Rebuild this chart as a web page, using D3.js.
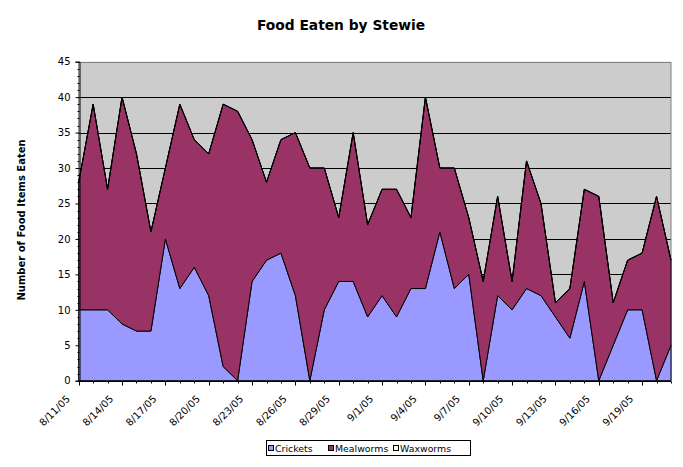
<!DOCTYPE html>
<html>
<head>
<meta charset="utf-8">
<script src="https://cdn.jsdelivr.net/npm/d3@7"></script>
<style>
  html, body { margin: 0; padding: 0; background: #ffffff; }
  svg { display: block; }
  text { font-family: "DejaVu Sans", Verdana, sans-serif; fill: #000; }
</style>
</head>
<body>
<svg id="chart" width="683" height="467"></svg>
<script>
// ---------- data ----------
const dates = ["8/11/05","8/12/05","8/13/05","8/14/05","8/15/05","8/16/05","8/17/05","8/18/05","8/19/05","8/20/05",
  "8/21/05","8/22/05","8/23/05","8/24/05","8/25/05","8/26/05","8/27/05","8/28/05","8/29/05","8/30/05",
  "8/31/05","9/1/05","9/2/05","9/3/05","9/4/05","9/5/05","9/6/05","9/7/05","9/8/05","9/9/05",
  "9/10/05","9/11/05","9/12/05","9/13/05","9/14/05","9/15/05","9/16/05","9/17/05","9/18/05","9/19/05",
  "9/20/05","9/21/05"];
const crickets  = [10,10,10,8,7,7,20,13,16,12,2,0,14,17,18,12,0,10,14,14,9,12,9,13,13,21,13,15,0,12,10,13,12,9,6,14,0,5,10,10,0,5];
const mealworms = [18,29,17,32,25,14,10,26,18,20,37,38,20,11,16,23,30,20,9,21,13,15,18,10,27,9,17,8,14,14,4,18,13,2,7,13,26,6,7,8,26,12];
const waxworms  = [0,0,0,0,0,0,0,0,0,0,0,0,0,0,0,0,0,0,0,0,0,0,0,0,0,0,0,0,0,0,0,0,0,0,0,0,0,0,0,0,0,0];
const seriesNames = ["Crickets","Mealworms","Waxworms"];
const seriesColors = ["#9999ff","#993366","#ffffcc"];
const yTicks = [0,5,10,15,20,25,30,35,40,45];
const title = "Food Eaten by Stewie";
const yTitle = "Number of Food Items Eaten";

// ---------- layout ----------
const svg = d3.select("#chart");
const L = 78.7, R = 671, T = 61.7, B = 380.7;

const table = dates.map((d, i) => ({ date: d, Crickets: crickets[i], Mealworms: mealworms[i], Waxworms: waxworms[i] }));
const stacked = d3.stack().keys(seriesNames)(table);

const x = d3.scalePoint().domain(dates).range([L, R]);
const y = d3.scaleLinear().domain([0, 45]).range([B, T]);

// plot background
svg.append("rect").attr("x", L).attr("y", T).attr("width", R - L).attr("height", B - T)
  .attr("fill", "#cccccc");

// gridlines
svg.append("g").selectAll("line").data(yTicks.filter(v => v > 0 && v < 45)).join("line")
  .attr("x1", L).attr("x2", R)
  .attr("y1", d => Math.round(y(d)) + 0.5).attr("y2", d => Math.round(y(d)) + 0.5)
  .attr("stroke", "#000").attr("stroke-width", 1);

// plot border (gray)
svg.append("rect").attr("x", L).attr("y", Math.round(T) + 0.5).attr("width", R - L).attr("height", B - T)
  .attr("fill", "none").attr("stroke", "#808080").attr("stroke-width", 1);

// areas
const area = d3.area()
  .x((d, i) => x(dates[i]))
  .y0(d => y(d[0]))
  .y1(d => y(d[1]));

svg.append("g").selectAll("path").data(stacked).join("path")
  .attr("d", area)
  .attr("fill", (d, i) => seriesColors[i])
  .attr("stroke", "#000").attr("stroke-width", 1).attr("stroke-linejoin", "miter");

// y axis
const yAxis = d3.axisLeft(y).tickValues(yTicks).tickSize(4).tickPadding(5).tickFormat(d3.format("d"));
const gy = svg.append("g").attr("transform", `translate(${Math.round(L) + 0.5},0)`).call(yAxis);
gy.select(".domain").attr("stroke", "#000");
gy.selectAll(".tick line").attr("stroke", "#000");
gy.selectAll(".tick text").attr("font-size", "10px").attr("font-family", "DejaVu Sans, Verdana, sans-serif");
// minor y ticks
const yMinor = d3.range(0, 46).filter(v => v % 5 !== 0);
svg.append("g").selectAll("line").data(yMinor).join("line")
  .attr("x1", Math.round(L) + 0.5 - 2).attr("x2", Math.round(L) + 0.5)
  .attr("y1", d => Math.round(y(d)) + 0.5).attr("y2", d => Math.round(y(d)) + 0.5)
  .attr("stroke", "#000");

// x axis
const labeled = dates.filter((d, i) => i % 3 === 0);
const gx = svg.append("g").attr("transform", `translate(0,${Math.round(B) + 0.5})`);
gx.append("line").attr("x1", L).attr("x2", R).attr("stroke", "#000");
gx.selectAll("line.tk").data(dates).join("line").attr("class", "tk")
  .attr("x1", d => Math.round(x(d)) + 0.5).attr("x2", d => Math.round(x(d)) + 0.5)
  .attr("y1", 0).attr("y2", (d, i) => i % 3 === 0 ? 4 : 2)
  .attr("stroke", "#000");
gx.selectAll("text").data(labeled).join("text")
  .attr("transform", d => `translate(${x(d) - 8},${18}) rotate(-45)`)
  .attr("text-anchor", "end")
  .attr("font-size", "10px")
  .text(d => d);

// title
svg.append("text").attr("x", 341).attr("y", 30).attr("text-anchor", "middle")
  .attr("font-size", "13.8px").attr("font-weight", "bold").text(title);

// y title
svg.append("text").attr("transform", "translate(24.5,220) rotate(-90)")
  .attr("text-anchor", "middle").attr("font-size", "10px").attr("font-weight", "bold").text(yTitle);

// legend
const lg = svg.append("g");
lg.append("rect").attr("x", 266.5).attr("y", 440.5).attr("width", 204).attr("height", 15)
  .attr("fill", "#fff").attr("stroke", "#000");
const itemX = [268, 328, 393];
seriesNames.forEach((name, i) => {
  lg.append("rect").attr("x", itemX[i] + 0.5).attr("y", 445.5).attr("width", 5).attr("height", 5)
    .attr("fill", seriesColors[i]).attr("stroke", "#000");
  lg.append("text").attr("x", itemX[i] + 7).attr("y", 452).attr("font-size", "9.4px").text(name);
});
</script>
</body>
</html>
